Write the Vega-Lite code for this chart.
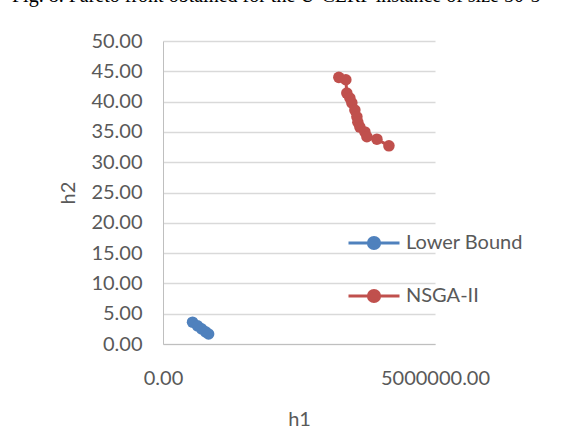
{
  "$schema": "https://vega.github.io/schema/vega-lite/v6.json",
  "width": 272,
  "height": 303,
  "autosize": {"type": "none"},
  "padding": {"left": 163, "top": 41, "right": 141, "bottom": 89},
  "background": "white",
  "title": {
    "text": "Fig. 8. Pareto front obtained for the U-CLRP instance of size 50-5",
    "anchor": "start",
    "frame": "group",
    "font": "Liberation Serif",
    "fontSize": 20,
    "fontWeight": "normal",
    "color": "#000000",
    "baseline": "alphabetic",
    "offset": 18,
    "dx": -151,
    "dy": 9
  },
  "data": {
    "values": [
      {"series": "Lower Bound", "order": 1, "h1": 543000, "h2": 3.6},
      {"series": "Lower Bound", "order": 2, "h1": 635000, "h2": 3.0},
      {"series": "Lower Bound", "order": 3, "h1": 709000, "h2": 2.5},
      {"series": "Lower Bound", "order": 4, "h1": 783000, "h2": 2.0},
      {"series": "Lower Bound", "order": 5, "h1": 838000, "h2": 1.65},
      {"series": "NSGA-II", "order": 1, "h1": 3232000, "h2": 44.0},
      {"series": "NSGA-II", "order": 2, "h1": 3361000, "h2": 43.6},
      {"series": "NSGA-II", "order": 3, "h1": 3379000, "h2": 41.4},
      {"series": "NSGA-II", "order": 4, "h1": 3435000, "h2": 40.6},
      {"series": "NSGA-II", "order": 5, "h1": 3471000, "h2": 39.8},
      {"series": "NSGA-II", "order": 6, "h1": 3527000, "h2": 38.6},
      {"series": "NSGA-II", "order": 7, "h1": 3564000, "h2": 37.5},
      {"series": "NSGA-II", "order": 8, "h1": 3582000, "h2": 36.6},
      {"series": "NSGA-II", "order": 9, "h1": 3619000, "h2": 35.8},
      {"series": "NSGA-II", "order": 10, "h1": 3711000, "h2": 35.0},
      {"series": "NSGA-II", "order": 11, "h1": 3748000, "h2": 34.2},
      {"series": "NSGA-II", "order": 12, "h1": 3932000, "h2": 33.8},
      {"series": "NSGA-II", "order": 13, "h1": 4153000, "h2": 32.7}
    ]
  },
  "encoding": {
    "x": {
      "field": "h1", "type": "quantitative",
      "scale": {"domain": [0, 5000000], "nice": false, "zero": true},
      "axis": {
        "title": "h1", "values": [0, 5000000], "format": ".2f",
        "grid": false, "ticks": false,
        "domainColor": "#BFBFBF", "domainWidth": 1,
        "labelFont": "Lato", "labelFontSize": 20, "labelColor": "#595959",
        "labelBaseline": "middle", "labelPadding": 34, "labelFlush": false,
        "titleFont": "Lato", "titleFontSize": 20, "titleFontWeight": "normal", "titleColor": "#595959",
        "titleBaseline": "middle", "titleY": 75
      }
    },
    "y": {
      "field": "h2", "type": "quantitative",
      "scale": {"domain": [0, 50], "nice": false},
      "axis": {
        "title": "h2", "values": [0, 5, 10, 15, 20, 25, 30, 35, 40, 45, 50], "format": ".2f",
        "grid": true, "gridColor": "#D9D9D9", "gridWidth": 1.3, "ticks": false,
        "domainColor": "#BFBFBF", "domainWidth": 1,
        "labelFont": "Lato", "labelFontSize": 20, "labelColor": "#595959",
        "labelBaseline": "middle", "labelPadding": 21, "labelFlush": false,
        "titleFont": "Lato", "titleFontSize": 20, "titleFontWeight": "normal", "titleColor": "#595959",
        "titleBaseline": "middle", "titleX": -95, "titleAngle": -90
      }
    },
    "color": {
      "field": "series", "type": "nominal",
      "scale": {"domain": ["Lower Bound", "NSGA-II"], "range": ["#4F81BD", "#C0504D"]},
      "legend": {
        "title": null,
        "orient": "none",
        "legendX": 184,
        "legendY": 175,
        "padding": 0,
        "rowPadding": 14,
        "symbolType": "M -1 0 L 1 0 M -0.22 0 A 0.22 0.22 0 1 1 0.22 0 A 0.22 0.22 0 1 1 -0.22 0 Z",
        "symbolSize": 2601,
        "symbolStrokeWidth": 3,
        "symbolOpacity": 1,
        "labelFont": "Lato", "labelFontSize": 20, "labelColor": "#595959",
        "labelOffset": 5,
        "encode": {
          "symbols": {"update": {
            "stroke": {"scale": "color", "field": "value"},
            "fill": {"scale": "color", "field": "value"},
            "strokeWidth": {"value": 3},
            "opacity": {"value": 1}
          }}
        }
      }
    }
  },
  "layer": [
    {
      "mark": {"type": "line", "strokeWidth": 3},
      "encoding": {
        "order": {"field": "order", "type": "quantitative"}
      }
    },
    {
      "mark": {"type": "point", "filled": true, "size": 133, "opacity": 1, "shape": "circle"}
    }
  ],
  "config": {"view": {"stroke": null}}
}
